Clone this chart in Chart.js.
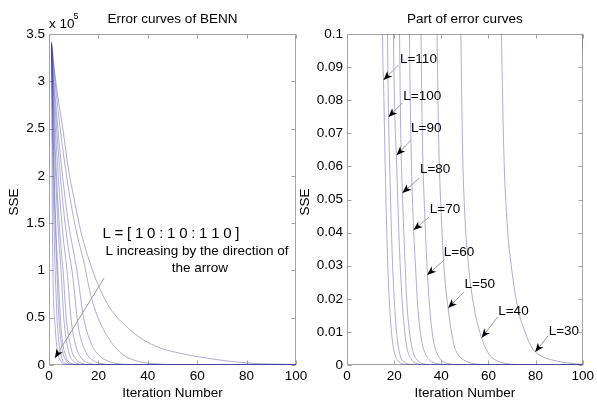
<!DOCTYPE html>
<html><head><meta charset="utf-8">
<script src="https://cdn.jsdelivr.net/npm/chart.js@4"></script>
<style>
html,body{margin:0;padding:0;background:#fff;width:597px;height:406px;overflow:hidden}
canvas{position:absolute;top:0}
#c1{left:0}
#c2{left:300px}
</style></head><body>
<canvas id="c1" width="320" height="406"></canvas>
<canvas id="c2" width="297" height="406"></canvas>
<script>
// ---- data (SSE per iteration) ----
const L_VALUES = [10,20,30,40,50,60,70,80,90,100,110];

const ITER_L10 = [1,3,5.7,8,10,13,16.6,20,25,31.6,38,45,53,61,70,81,90,100];
const SSE_L10  = [341000,295000,248000,205000,178000,140000,108000,84000,59000,40000,27000,18000,12500,8500,5000,2000,1000,500];

const ITER_L20 = [1,2,4,6,8,10,12,14,17,20,24.7,30,35,40,50,60,70,80,90,100];
const SSE_L20  = [340000,312000,262000,220000,185000,155000,131000,110000,73000,49000,26000,10800,4700,2050,390,74,14,2.7,0.5,0.095];

const ITER_L30 = [1,2,4,6,8,11.3,14,17,20,25,30,35,40,45,50,55,60,63,65.5,66.5,68,69.5,72.5,75,78,80,84,89,95,100];
const SSE_L30  = [340000,302000,238000,188000,148000,100000,50200,23400,10900,3040,850,238,66,18.5,5.2,1.45,0.40,0.19,0.1,0.065,0.042,0.031,0.017,0.011,0.0058,0.0039,0.0022,0.0012,0.0005,0.0002];

const ITER_L40 = [1,2,4,6,8,9.3,12,15,18,22,26,30,35,40,44,46.5,48.3,49,50,51.7,54,57.1,60,63,67,72,80,100];
const SSE_L40  = [340000,293000,218000,162000,120500,100000,38400,13300,4600,1110,270,66,11.2,1.9,0.46,0.19,0.1,0.066,0.045,0.029,0.017,0.0082,0.0035,0.0015,0.0005,0.00015,0.00003,0];

const ITER_L50 = [1,2,3,4,5,6,7.3,9,11,13,16,20,24,28,32,35,37,38.2,38.9,40,41.2,42.9,45.4,47.5,49.6,53,57,65,100];
const SSE_L50  = [340000,280000,230700,190000,156500,128800,100000,46800,19100,7800,2050,342,57,9.6,1.6,0.42,0.17,0.1,0.068,0.045,0.029,0.017,0.006,0.0028,0.0015,0.0005,0.00015,0.00002,0];

const ITER_L60 = [1,2,3,4,5,5.7,7,9,11,14,17,21,25,28,30,31.4,32,33,34.1,35,36.5,38.5,41,44,50,100];
const SSE_L60  = [340000,262000,202000,155600,120000,100000,49700,17000,5800,1160,232,27,3.2,0.64,0.22,0.1,0.068,0.045,0.028,0.018,0.008,0.003,0.001,0.0003,0.00003,0];

const ITER_L70 = [1,2,3,4,4.9,6,8,10,12,15,18,21,24,25.5,26.5,27.1,28.2,29.2,30,31.5,33.5,36,39,45,100];
const SSE_L70  = [340000,248000,181000,132000,100000,49500,13800,3830,1070,156,23,3.4,0.49,0.19,0.1,0.068,0.042,0.028,0.018,0.008,0.003,0.001,0.0003,0.00003,0];

const ITER_L80 = [1,2,3,3.6,5,7,9,11,14,17,20,21.5,22.3,22.8,23.5,24.5,25.3,26.5,28,30,33,38,100];
const SSE_L80  = [340000,212000,132500,100000,35500,8100,1840,418,45,4.9,0.53,0.175,0.1,0.07,0.052,0.033,0.02,0.01,0.004,0.0013,0.0003,0.00003,0];

const ITER_L90 = [1,2,3.2,4,5,7,9,12,15,18,19.7,20.2,21,22,23,24.2,25.5,27.5,30,35,100];
const SSE_L90  = [340000,194000,100000,51100,22000,4100,766,62,5,0.4,0.1,0.078,0.062,0.04,0.024,0.012,0.005,0.0015,0.0004,0.00004,0];

const ITER_L100 = [1,1.5,2,2.5,3.5,5,7,9,12,15,16.5,17.2,17.6,18.3,19.2,20.2,21.3,22.5,24.5,27,32,100];
const SSE_L100  = [340000,226000,150000,100000,39000,9500,1460,222,13,0.77,0.19,0.1,0.077,0.055,0.033,0.018,0.008,0.003,0.0008,0.0002,0.00002,0];

const ITER_L110 = [1,1.3,1.6,2.5,3.5,5,7,9,11,13,14.2,15.1,15.5,16.2,17,17.9,19,20.2,22,24.5,30,100];
const SSE_L110  = [342000,185000,100000,40000,14400,3100,410,53,6.9,0.9,0.26,0.1,0.086,0.06,0.037,0.02,0.009,0.0035,0.001,0.00025,0.00002,0];

const CURVE_ITERS = [ITER_L10,ITER_L20,ITER_L30,ITER_L40,ITER_L50,ITER_L60,ITER_L70,ITER_L80,ITER_L90,ITER_L100,ITER_L110];
const CURVE_SSE   = [SSE_L10,SSE_L20,SSE_L30,SSE_L40,SSE_L50,SSE_L60,SSE_L70,SSE_L80,SSE_L90,SSE_L100,SSE_L110];

// ---- ticks ----
const X_TICKS = [0,20,40,60,80,100];
const X_TICK_LABELS = ['0','20','40','60','80','100'];
const LEFT_Y_TICKS = [0,50000,100000,150000,200000,250000,300000,350000];
const LEFT_Y_TICK_LABELS = ['0','0.5','1','1.5','2','2.5','3','3.5'];
const RIGHT_Y_TICKS = [0,0.01,0.02,0.03,0.04,0.05,0.06,0.07,0.08,0.09,0.1];
const RIGHT_Y_TICK_LABELS = ['0','0.01','0.02','0.03','0.04','0.05','0.06','0.07','0.08','0.09','0.1'];

// ---- annotations ----
const LEFT_NOTE_TEXT = ['L=[10:10:110]','L increasing by the direction of','the arrow'];
const LEFT_NOTE_AT = [[49.4,138500],[59.9,120500],[61.1,102500]];
const LEFT_NOTE_SPAN = [137,0,0];   // drawn width of each line in px (0 = natural)
const LEFT_NOTE_SIZE = [15,13.5,13.5];
const LEFT_ARROW = [[22.3,92000],[2.4,7400]];

const RIGHT_NOTE_TEXT = ['L=110','L=100','L=90','L=80','L=70','L=60','L=50','L=40','L=30'];
const RIGHT_NOTE_AT   = [[30.3,0.0924],[31.9,0.0813],[33.6,0.0716],[37.4,0.0592],[41.6,0.0471],[47.5,0.0341],[56.3,0.0245],[70.6,0.0163],[92,0.0103]];
const RIGHT_ARROW_FROM= [[21.8,0.0906],[23.5,0.0792],[27.3,0.068],[30.7,0.0565],[34.9,0.0447],[41.2,0.0317],[49.6,0.0221],[63.9,0.0145],[85.3,0.0088]];
const RIGHT_ARROW_TO  = [[15.5,0.0861],[17.6,0.0749],[21,0.0634],[23.5,0.052],[28.2,0.0408],[34,0.0272],[42.9,0.0172],[57.1,0.0082],[79.8,0.0039]];

const FONT = "'Liberation Sans', Arial, sans-serif";
const LINE_COLOR = 'rgba(60,60,165,0.42)';
const BOX_COLOR = '#a3a3a3';

function makeDatasets(){
  return L_VALUES.map((L,k)=>({
    label:'L='+L,
    data: CURVE_ITERS[k].map((t,i)=>({x:t,y:CURVE_SSE[k][i]})),
    borderColor: LINE_COLOR,
    borderWidth: 1,
    pointRadius: 0,
    fill:false,
    cubicInterpolationMode:'monotone'
  }));
}

function arrow(ctx, x0,y0,x1,y1){
  ctx.save();
  ctx.strokeStyle='#9a9a9a'; ctx.lineWidth=1;
  ctx.beginPath(); ctx.moveTo(x0,y0); ctx.lineTo(x1,y1); ctx.stroke();
  const a=Math.atan2(y1-y0,x1-x0);
  const len=9, hw=3.6, back=6.5;
  const ux=Math.cos(a), uy=Math.sin(a), px=-uy, py=ux;
  ctx.fillStyle='#000';
  ctx.beginPath();
  ctx.moveTo(x1,y1);
  ctx.lineTo(x1-ux*len+px*hw, y1-uy*len+py*hw);
  ctx.lineTo(x1-ux*back, y1-uy*back);
  ctx.lineTo(x1-ux*len-px*hw, y1-uy*len-py*hw);
  ctx.closePath(); ctx.fill();
  ctx.restore();
}

function spacedText(ctx, text, cx, cy, span){
  if(!span){ ctx.fillText(text, cx, cy); return; }
  const chars=[...text];
  const ws=chars.map(c=>ctx.measureText(c).width);
  const natural=ws.reduce((a,b)=>a+b,0);
  const gap=Math.max(0,(span-natural)/(chars.length-1));
  let x=cx-(natural+gap*(chars.length-1))/2;
  ctx.save(); ctx.textAlign='left';
  chars.forEach((c,i)=>{ ctx.fillText(c,x,cy); x+=ws[i]+gap; });
  ctx.restore();
}

function decor(cfg){
  return {
    id:'decor'+cfg.id,
    beforeDatasetsDraw(chart){
      const ctx=chart.ctx, a=chart.chartArea, xs=chart.scales.x, ys=chart.scales.y;
      ctx.save();
      ctx.strokeStyle=BOX_COLOR; ctx.lineWidth=1;
      const L=Math.round(a.left)+0.5, R=Math.round(a.right)-0.5, T=Math.round(a.top)+0.5, B=Math.round(a.bottom)-0.5;
      ctx.strokeRect(L,T,R-L,B-T);
      ctx.beginPath();
      X_TICKS.forEach(v=>{const x=Math.round(xs.getPixelForValue(v))+0.5; ctx.moveTo(x,B); ctx.lineTo(x,B-4); ctx.moveTo(x,T); ctx.lineTo(x,T+4);});
      cfg.yTicks.forEach(v=>{const y=Math.round(ys.getPixelForValue(v))+0.5; ctx.moveTo(L,y); ctx.lineTo(L+4,y); ctx.moveTo(R,y); ctx.lineTo(R-4,y);});
      ctx.stroke();
      ctx.restore();
    },
    afterDraw(chart){
      const ctx=chart.ctx, a=chart.chartArea, xs=chart.scales.x, ys=chart.scales.y;
      const cx=(a.left+a.right)/2;
      ctx.save();
      ctx.fillStyle='#000';
      ctx.textAlign='center'; ctx.textBaseline='middle';
      ctx.font='13.5px '+FONT;
      ctx.fillText(cfg.title, cx, 19.5);
      ctx.fillText('Iteration Number', cx, 393);
      ctx.save();
      ctx.translate(cfg.ylabelX, 202); ctx.rotate(-Math.PI/2);
      ctx.fillText('SSE',0,0);
      ctx.restore();
      if(cfg.exponent){
        ctx.textAlign='left';
        ctx.fillText('x 10', a.left, 24.5);
        ctx.font='9px '+FONT;
        ctx.fillText('5', a.left+24.5, 17);
        ctx.textAlign='center';
      }
      const P=(p)=>[xs.getPixelForValue(p[0]), ys.getPixelForValue(p[1])];
      cfg.notes.forEach((t,i)=>{
        const p=P(cfg.noteAt[i]);
        ctx.font=(cfg.noteSize?cfg.noteSize[i]:13.5)+'px '+FONT;
        spacedText(ctx,t,p[0],p[1],cfg.noteSpan?cfg.noteSpan[i]:0);
      });
      cfg.arrowsFrom.forEach((f,i)=>{const p0=P(f), p1=P(cfg.arrowsTo[i]); arrow(ctx,p0[0],p0[1],p1[0],p1[1]);});
      ctx.restore();
    }
  };
}

function makeChart(id, cfg){
  return new Chart(document.getElementById(id), {
    type:'line',
    data:{datasets:makeDatasets()},
    options:{
      responsive:false, animation:false, devicePixelRatio:1,
      layout:{padding:{top:34,right:cfg.padRight,left:0,bottom:0}},
      plugins:{legend:{display:false},tooltip:{enabled:false},title:{display:false}},
      elements:{line:{tension:0}},
      scales:{
        x:{type:'linear',min:0,max:100,
          afterBuildTicks:s=>{s.ticks=X_TICKS.map(v=>({value:v}));},
          afterFit:s=>{s.height=41;},
          grid:{display:false,drawTicks:false}, border:{display:false},
          ticks:{autoSkip:false,maxRotation:0,padding:3,color:'#000',font:{family:FONT,size:13.5},
            callback:(v,i)=>X_TICK_LABELS[i]}},
        y:{type:'linear',min:0,max:cfg.yMax,
          afterBuildTicks:s=>{s.ticks=cfg.yTicks.map(v=>({value:v}));},
          afterFit:s=>{s.width=cfg.yWidth;},
          grid:{display:false,drawTicks:false}, border:{display:false},
          ticks:{autoSkip:false,padding:4,color:'#000',font:{family:FONT,size:13.5},
            callback:(v,i)=>cfg.yLabels[i]}}
      }
    },
    plugins:[decor(cfg)]
  });
}

makeChart('c1',{id:1,title:'Error curves of BENN',padRight:24,yWidth:49,yMax:350000,
  yTicks:LEFT_Y_TICKS,yLabels:LEFT_Y_TICK_LABELS,ylabelX:14,exponent:true,
  notes:LEFT_NOTE_TEXT,noteAt:LEFT_NOTE_AT,noteSpan:LEFT_NOTE_SPAN,noteSize:LEFT_NOTE_SIZE,
  arrowsFrom:[LEFT_ARROW[0]],arrowsTo:[LEFT_ARROW[1]]});
makeChart('c2',{id:2,title:'Part of error curves',padRight:12,yWidth:47,yMax:0.1,
  yTicks:RIGHT_Y_TICKS,yLabels:RIGHT_Y_TICK_LABELS,ylabelX:5,exponent:false,
  notes:RIGHT_NOTE_TEXT,noteAt:RIGHT_NOTE_AT,arrowsFrom:RIGHT_ARROW_FROM,arrowsTo:RIGHT_ARROW_TO});
</script>
</body></html>
